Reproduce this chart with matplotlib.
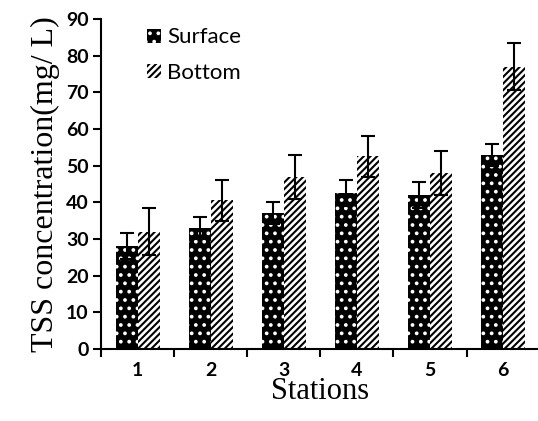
import numpy as np
import matplotlib.pyplot as plt

plt.rcParams['hatch.linewidth'] = 1.5

stations = ['1', '2', '3', '4', '5', '6']
surface = [28, 33, 37, 42.5, 42, 53]
surface_err = [3.5, 3, 3, 3.5, 3.5, 3]
bottom = [32, 40.5, 47, 52.5, 48, 77]
bottom_err = [6.5, 5.5, 6, 5.5, 6, 6.5]

x = np.arange(1, len(stations) + 1)
w = 0.3

fig = plt.figure(figsize=(5.38, 4.21), dpi=100)
ax = fig.add_axes([0.188, 0.171, 0.815, 0.784])

err_kw = dict(ecolor='black', elinewidth=1.5, capsize=5, capthick=1.5)
ax.bar(x - w / 2, surface, w, color='black', edgecolor='white', hatch='..',
       linewidth=0, yerr=surface_err, error_kw=err_kw, label='Surface')
ax.bar(x + w / 2, bottom, w, color='white', edgecolor='black', hatch='/////',
       linewidth=0, yerr=bottom_err, error_kw=err_kw, label='Bottom')

ax.set_xlim(0.5, 6.5)
ax.set_ylim(0, 90)
ax.set_yticks(range(0, 91, 10))
ax.set_xticks(x)
ax.set_xticklabels(stations)
ax.set_xticks(np.arange(0.5, 6.6, 1), minor=True)
ax.tick_params(axis='x', which='major', length=0, pad=9)
ax.tick_params(axis='x', which='minor', length=6, width=1.5, direction='out')
ax.tick_params(axis='y', length=6, width=1.5, direction='out', pad=3)
for lab in ax.get_xticklabels() + ax.get_yticklabels():
    lab.set_fontfamily('Lato')
    lab.set_fontweight('bold')
    lab.set_fontsize(14)

for s in ['top', 'right']:
    ax.spines[s].set_visible(False)
for s in ['left', 'bottom']:
    ax.spines[s].set_linewidth(1.5)

ax.set_xlabel('Stations', fontfamily='Liberation Serif', fontsize=22, labelpad=-1)
ax.set_ylabel('TSS concentration(mg/ L)', fontfamily='Liberation Serif',
              fontsize=23, labelpad=4)

leg = ax.legend(loc='upper left', bbox_to_anchor=(0.06, 1.035), frameon=False,
                prop={'family': 'Lato', 'size': 16}, handlelength=0.6,
                handleheight=0.6, handletextpad=0.3, labelspacing=0.7)

fig.savefig('out.png', dpi=100)
